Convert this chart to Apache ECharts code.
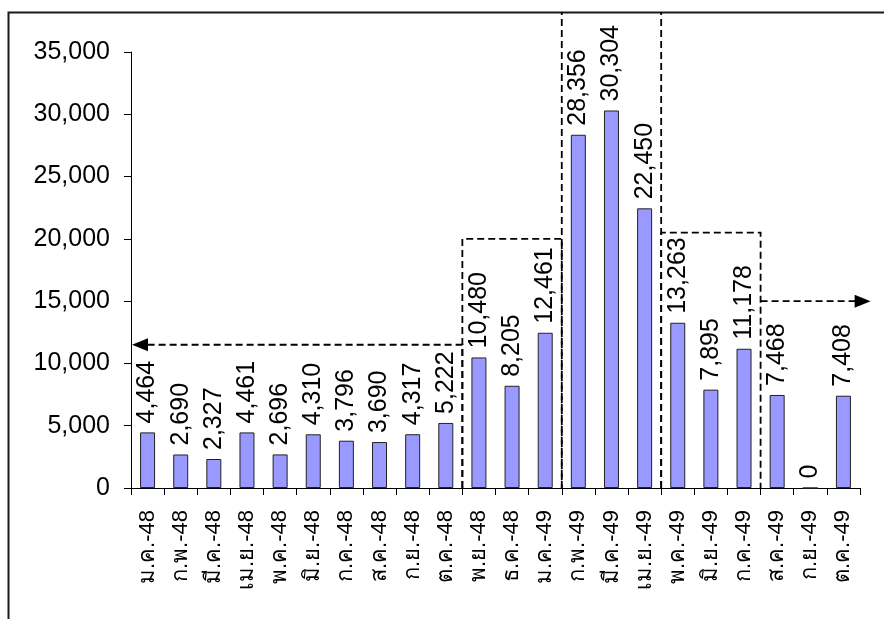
<!DOCTYPE html>
<html>
<head>
<meta charset="utf-8">
<script src="https://cdn.jsdelivr.net/npm/echarts@6/dist/echarts.min.js"></script>
<style>
  html, body { margin: 0; padding: 0; background: #ffffff; }
  #chart { width: 884px; height: 619px; }
</style>
</head>
<body>
<div id="chart"></div>
<script>
// Monthly counts, Jan 2548 – Oct 2549 (Thai Buddhist-era months)
const months = ['ม.ค.-48', 'ก.พ.-48', 'มี.ค.-48', 'เม.ย.-48', 'พ.ค.-48', 'มิ.ย.-48',
                'ก.ค.-48', 'ส.ค.-48', 'ก.ย.-48', 'ต.ค.-48', 'พ.ย.-48', 'ธ.ค.-48',
                'ม.ค.-49', 'ก.พ.-49', 'มี.ค.-49', 'เม.ย.-49', 'พ.ค.-49', 'มิ.ย.-49',
                'ก.ค.-49', 'ส.ค.-49', 'ก.ย.-49', 'ต.ค.-49'];
const counts = [4464, 2690, 2327, 4461, 2696, 4310, 3796, 3690, 4317, 5222, 10480, 8205,
                12461, 28356, 30304, 22450, 13263, 7895, 11178, 7468, 0, 7408];
const yTicks = [0, 5000, 10000, 15000, 20000, 25000, 30000, 35000];

// Period brackets: category boundaries (index of the first month after the edge) and level
const periodBoxes = [
  { from: 10, to: 13, level: 20000 },
  { from: 16, to: 19, level: 20500 }
];
const peakPeriod = { from: 13, to: 16 };
const leftArrow = { edge: 10, to: 0, level: 11500 };
const rightArrow = { edge: 19, level: 15000 };

const FONT = '"Liberation Sans", Arial, "Noto Sans", sans-serif';
const fmt = v => v.toLocaleString('en-US');

const chart = echarts.init(document.getElementById('chart'), null, { renderer: 'canvas' });

chart.setOption({
  animation: false,
  backgroundColor: '#ffffff',
  grid: { left: 131, right: 24, top: 52, bottom: 131, containLabel: false },
  xAxis: {
    type: 'category',
    data: months,
    boundaryGap: true,
    axisLine: { lineStyle: { color: '#000', width: 1 } },
    axisTick: { show: true, alignWithLabel: false, length: 7, lineStyle: { color: '#000' } },
    axisLabel: {
      rotate: 90, interval: 0, margin: 22,
      fontFamily: FONT, fontSize: 22, color: '#000'
    }
  },
  yAxis: {
    type: 'value',
    min: yTicks[0],
    max: yTicks[yTicks.length - 1],
    interval: 5000,
    splitLine: { show: false },
    axisLine: { show: true, lineStyle: { color: '#000', width: 1 } },
    axisTick: { show: true, length: 7, lineStyle: { color: '#000' } },
    axisLabel: {
      margin: 21, fontFamily: FONT, fontSize: 25, color: '#000',
      formatter: v => fmt(v)
    }
  },
  series: [{
    type: 'bar',
    data: counts,
    barWidth: 15,
    itemStyle: { color: '#9999ff', borderColor: '#222', borderWidth: 1 },
    label: {
      show: true, position: 'top', rotate: 90, distance: 9,
      align: 'left', verticalAlign: 'middle',
      fontFamily: FONT, fontSize: 25, color: '#000',
      formatter: p => fmt(p.value)
    }
  }]
});

// Dashed period brackets, placed through the axis scales
function drawBrackets() {
  const cx = i => chart.convertToPixel({ xAxisIndex: 0 }, i);
  const step = cx(1) - cx(0);
  const edge = i => cx(0) + (i - 0.5) * step;
  const py = v => chart.convertToPixel({ yAxisIndex: 0 }, v);
  const frameTop = 12;
  const dash = { stroke: '#000', lineWidth: 1.8, lineDash: [7, 4], fill: null };
  const els = [];

  // outer frame
  els.push({ type: 'rect', shape: { x: 8.5, y: 12.5, width: 1000, height: 1000 },
             style: { stroke: '#1a1a1a', lineWidth: 2, fill: null }, silent: true });

  periodBoxes.forEach(b => {
    els.push({ type: 'polyline', silent: true, style: dash,
      shape: { points: [[edge(b.from), py(0)], [edge(b.from), py(b.level)],
                        [edge(b.to), py(b.level)], [edge(b.to), py(0)]] } });
  });
  [peakPeriod.from, peakPeriod.to].forEach(i => {
    els.push({ type: 'polyline', silent: true, style: dash,
      shape: { points: [[edge(i), py(0)], [edge(i), frameTop]] } });
  });

  // arrow towards the earlier months
  const lx = edge(leftArrow.to), ly = py(leftArrow.level);
  els.push({ type: 'polyline', silent: true, style: dash,
    shape: { points: [[edge(leftArrow.edge), py(0)], [edge(leftArrow.edge), ly], [lx + 14, ly]] } });
  els.push({ type: 'polygon', silent: true, style: { fill: '#000' },
    shape: { points: [[lx + 1, ly], [lx + 17, ly - 6.5], [lx + 17, ly + 6.5]] } });

  // arrow towards the later months
  const rx0 = edge(rightArrow.edge), ry = py(rightArrow.level);
  const tip = edge(months.length) + 0.32 * step;
  els.push({ type: 'polyline', silent: true, style: dash,
    shape: { points: [[rx0, ry], [tip - 14, ry]] } });
  els.push({ type: 'polygon', silent: true, style: { fill: '#000' },
    shape: { points: [[tip, ry], [tip - 16, ry - 6.5], [tip - 16, ry + 6.5]] } });

  chart.setOption({ graphic: els });
}
drawBrackets();
</script>
</body>
</html>
